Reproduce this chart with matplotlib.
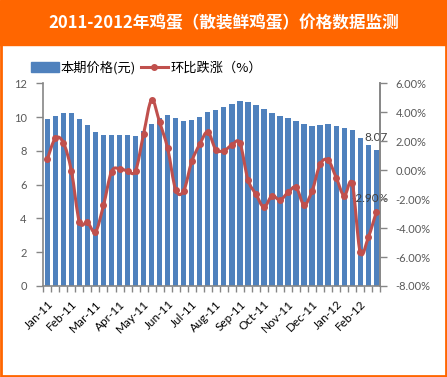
import matplotlib
matplotlib.use('Agg')
import matplotlib.pyplot as plt
from matplotlib.path import Path
from matplotlib.patches import PathPatch, Rectangle
from matplotlib.lines import Line2D

plt.rcParams['font.family'] = ['Lato', 'Noto Sans CJK SC', 'DejaVu Sans']
plt.rcParams['axes.unicode_minus'] = False

title = '2011-2012年鸡蛋（散装鲜鸡蛋）价格数据监测'
months = ['Jan-11', 'Feb-11', 'Mar-11', 'Apr-11', 'May-11', 'Jun-11', 'Jul-11',
          'Aug-11', 'Sep-11', 'Oct-11', 'Nov-11', 'Dec-11', 'Jan-12', 'Feb-12']
# 3 readings per month (early / mid / late)
price = [9.90, 10.06, 10.24, 10.24, 9.88, 9.53, 9.11, 8.93, 8.93, 8.93, 8.93, 8.88,
         9.15, 9.59, 9.92, 10.12, 9.94, 9.78, 9.82, 10.02, 10.28, 10.41, 10.59, 10.77,
         10.95, 10.89, 10.71, 10.47, 10.25, 10.06, 9.94, 9.75, 9.59, 9.47, 9.53, 9.59,
         9.47, 9.35, 9.23, 8.76, 8.34, 8.07]
change = [0.76, 2.2, 1.9, -0.05, -3.57, -3.6, -4.26, -2.43, -0.1, 0.1, -0.05, -0.05,
          2.5, 4.85, 3.3, 1.5, -1.35, -1.42, 0.6, 1.79, 2.65, 1.42, 1.35, 1.73,
          1.88, -0.65, -1.66, -2.55, -1.77, -2.06, -1.54, -1.18, -2.39, -1.43, 0.41, 0.69,
          -0.51, -1.77, -0.92, -5.68, -4.65, -2.90]

ORANGE = '#FF6600'
BLUE = '#4F81BD'
RED = '#C0504D'
GRAY = '#868686'

W, H = 447, 377
fig = plt.figure(figsize=(W / 100, H / 100), dpi=100)
fig.patches.append(Rectangle((0, 1 - 45 / H), 1, 45 / H, transform=fig.transFigure,
                             color=ORANGE, zorder=0))
fig.patches.append(Rectangle((0.002, 0.003), 0.995, 0.99, transform=fig.transFigure,
                             fill=False, edgecolor=ORANGE, lw=2, zorder=0))
fig.text(0.5, 1 - 23 / H, title, color='white', fontsize=12, fontweight='bold',
         family=['Noto Sans CJK SC', 'DejaVu Sans'], ha='center', va='center')

ax = fig.add_axes([43.3 / W, 1 - 286 / H, (380.3 - 43.3) / W, (286 - 83.3) / H])
x = list(range(len(price)))
bars = ax.bar(x, price, width=0.66, color=BLUE, zorder=2)
ax.set_xlim(-0.5, len(price) - 0.5)
ax.set_ylim(0, 12)
ax.set_yticks(range(0, 13, 2))
ax.set_xticks(x[::3])
ax.set_xticklabels(months, rotation=45, ha='right', va='top', rotation_mode='anchor',
                   fontsize=8.5)
ax.set_xticks([i - 0.5 for i in range(len(price) + 1)], minor=True)
ax.tick_params(axis='x', which='major', length=0, pad=9, colors='black')
ax.tick_params(axis='x', which='minor', length=4, color=GRAY, width=1)
ax.tick_params(axis='y', length=5, color=GRAY, width=1, labelsize=8, labelcolor='#595959',
               pad=7)
for s in ['top']:
    ax.spines[s].set_visible(False)
for s in ['left', 'bottom', 'right']:
    ax.spines[s].set_color(GRAY)
    ax.spines[s].set_linewidth(1.2)

ax.annotate('%.2f' % price[-1], (x[-1], price[-1]), xytext=(0, 5), textcoords='offset points',
            ha='center', va='bottom', fontsize=8.5, color='#404040')

ax2 = ax.twinx()
ax2.set_ylim(-8, 6)
ax2.set_yticks(range(-8, 7, 2))
ax2.set_yticklabels(['%.2f%%' % v for v in range(-8, 7, 2)])
ax2.tick_params(axis='y', length=5, color=GRAY, width=1, labelsize=8, labelcolor='#595959',
                pad=6)
for s in ['top', 'left', 'bottom']:
    ax2.spines[s].set_visible(False)
ax2.spines['right'].set_color(GRAY)
ax2.spines['right'].set_linewidth(1.2)

ax2.annotate('%.2f%%' % change[-1], (x[-1], change[-1]), xytext=(-5, 10),
             textcoords='offset points', ha='center', va='center', fontsize=8.5,
             color='#404040', zorder=1)

# smoothed line (Bezier through the readings, like Excel's smooth line)
verts = [(x[0], change[0])]
codes = [Path.MOVETO]
n = len(change)
for i in range(n - 1):
    p0 = (x[max(i - 1, 0)], change[max(i - 1, 0)])
    p1 = (x[i], change[i])
    p2 = (x[i + 1], change[i + 1])
    p3 = (x[min(i + 2, n - 1)], change[min(i + 2, n - 1)])
    c1 = (p1[0] + (p2[0] - p0[0]) / 6, p1[1] + (p2[1] - p0[1]) / 6)
    c2 = (p2[0] - (p3[0] - p1[0]) / 6, p2[1] - (p3[1] - p1[1]) / 6)
    verts += [c1, c2, p2]
    codes += [Path.CURVE4] * 3
ax2.add_patch(PathPatch(Path(verts, codes), facecolor='none', edgecolor=RED, lw=2.2,
                        zorder=3, capstyle='round', joinstyle='round'))
ax2.plot(x, change, 'o', color=RED, ms=4, zorder=4)

handles = [Rectangle((0, 0), 1, 1, color=BLUE),
           Line2D([], [], color=RED, lw=2.2, marker='o', ms=4)]
fig.legend(handles, ['本期价格(元)', '环比跌涨（%）'], ncol=2, loc='center left',
           bbox_to_anchor=(31 / W, 1 - 68 / H), frameon=False, fontsize=9.5,
           borderpad=0, borderaxespad=0, handlelength=2.1, handleheight=0.8,
           handletextpad=0.15, columnspacing=0.35,
           prop={'family': ['Noto Sans CJK SC', 'DejaVu Sans'], 'size': 9.5})

fig.savefig('out.png', dpi=100)
